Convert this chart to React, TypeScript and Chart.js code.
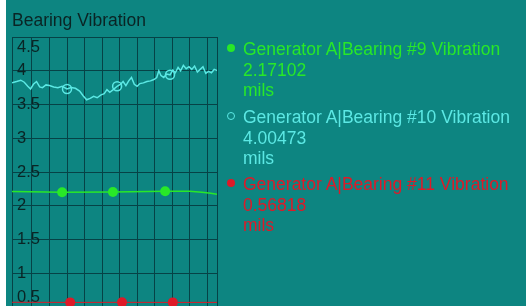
import React, { useEffect, useRef } from "react";
import { Chart, registerables } from "chart.js";

Chart.register(...registerables);

const TITLE = "Bearing Vibration";
const Y_TICKS = [0.5, 1, 1.5, 2, 2.5, 3, 3.5, 4, 4.5];
const X_GRID = [5, 10, 15, 20, 25, 30, 35, 40, 45, 50, 55];
const X_MIN = -0.7;
const X_MAX = 57.8;

const CYAN_X = [-0.7, 0.6, 1.8, 2.8, 3.8, 4.6, 5.4, 6.3, 7.2, 8.0, 9.0, 10.0, 11.2, 12.4, 13.6, 15.0, 16.2, 17.4, 18.6, 19.6, 20.6, 21.6, 22.6, 23.6, 24.6, 25.6, 26.4, 27.2, 28.2, 29.3, 30.3, 31.0, 31.8, 32.6, 33.4, 34.2, 35.0, 35.8, 36.8, 37.8, 38.8, 39.8, 40.6, 41.2, 41.8, 42.6, 43.4, 44.4, 45.2, 45.9, 46.7, 47.4, 48.2, 49.0, 49.8, 50.6, 51.4, 52.2, 53.0, 53.8, 54.6, 55.4, 56.2, 57.0, 57.8];
const CYAN_Y = [3.82, 3.84, 3.86, 3.83, 3.77, 3.73, 3.80, 3.84, 3.76, 3.75, 3.79, 3.78, 3.76, 3.75, 3.77, 3.73, 3.75, 3.74, 3.70, 3.63, 3.57, 3.59, 3.62, 3.60, 3.64, 3.66, 3.72, 3.68, 3.72, 3.77, 3.80, 3.84, 3.78, 3.85, 3.90, 3.80, 3.77, 3.81, 3.82, 3.84, 3.85, 3.87, 3.90, 4.00, 3.93, 3.90, 3.95, 3.94, 4.01, 3.97, 4.05, 4.00, 4.08, 4.03, 4.06, 4.02, 4.07, 3.98, 4.02, 4.06, 3.96, 3.99, 3.97, 4.02, 4.00473];
const CYAN_MARKS = [15.0, 29.3, 44.4];

const GREEN_X = [-0.7, 13.6, 28.1, 43.0, 50.0, 53.5, 56.0, 57.8];
const GREEN_Y = [2.21, 2.2, 2.205, 2.215, 2.215, 2.2, 2.185, 2.17102];
const GREEN_MARKS = [13.6, 28.1, 43.0];

const RED_X = [-0.7, 15.9, 30.7, 45.2, 57.8];
const RED_Y = [0.57, 0.568, 0.569, 0.568, 0.56818];
const RED_MARKS = [15.9, 30.7, 45.2];

const LEGEND_NAMES = [
  "Generator A|Bearing #9 Vibration",
  "Generator A|Bearing #10 Vibration",
  "Generator A|Bearing #11 Vibration",
];
const LEGEND_VALUES = ["2.17102", "4.00473", "0.56818"];
const UNIT = "mils";

const BG = "rgb(13,133,129)";
const GRID = "rgb(6,66,70)";
const DARK = "#0a2424";
const GREEN = "rgb(40,232,40)";
const CYAN = "rgb(92,232,228)";
const RED = "rgb(222,26,40)";

function pts(xs: number[], ys: number[]) {
  return xs.map((x, i) => ({ x, y: ys[i] }));
}

const yLabelPlugin = {
  id: "yLabels",
  beforeDatasetsDraw(chart: any) {
    const { ctx, chartArea, scales } = chart;
    const ys = scales.y;
    ctx.save();
    ctx.font = "16.5px Arial, 'Liberation Sans', sans-serif";
    ctx.fillStyle = DARK;
    ctx.textAlign = "left";
    ctx.textBaseline = "middle";
    Y_TICKS.forEach((v) => {
      let p = ys.getPixelForValue(v);
      p = Math.max(chartArea.top + 10, Math.min(chartArea.bottom - 10, p));
      ctx.fillText(String(v), chartArea.left + 5, p);
    });
    ctx.restore();
  },
};

export default function App() {
  const ref = useRef<HTMLCanvasElement | null>(null);
  useEffect(() => {
    if (!ref.current) return;
    const mk = (marks: number[], r: number) => (c: any) =>
      c.raw && marks.includes(c.raw.x) ? r : 0;
    const chart = new Chart(ref.current, {
      type: "line",
      data: {
        datasets: [
          {
            data: pts(CYAN_X, CYAN_Y),
            borderColor: CYAN,
            borderWidth: 1.5,
            pointRadius: mk(CYAN_MARKS, 4.5),
            pointBackgroundColor: "rgba(0,0,0,0)",
            pointBorderColor: CYAN,
            pointBorderWidth: 1.5,
          },
          {
            data: pts(GREEN_X, GREEN_Y),
            borderColor: GREEN,
            borderWidth: 1.5,
            pointRadius: mk(GREEN_MARKS, 5),
            pointBackgroundColor: GREEN,
            pointBorderColor: GREEN,
            pointBorderWidth: 0,
          },
          {
            data: pts(RED_X, RED_Y),
            borderColor: RED,
            borderWidth: 1,
            pointRadius: mk(RED_MARKS, 5),
            pointBackgroundColor: RED,
            pointBorderColor: RED,
            pointBorderWidth: 0,
          },
        ],
      },
      options: {
        animation: false,
        responsive: false,
        devicePixelRatio: 1,
        layout: { padding: { left: 6, top: 37, right: 19, bottom: 13 } },
        plugins: { legend: { display: false }, title: { display: false }, tooltip: { enabled: false } },
        scales: {
          x: {
            type: "linear",
            min: X_MIN,
            max: X_MAX,
            afterBuildTicks: (s: any) => {
              s.ticks = [X_MIN, ...X_GRID, X_MAX].map((v) => ({ value: v }));
            },
            ticks: { display: false },
            grid: { color: GRID, drawTicks: false, lineWidth: 1 },
            border: { display: false },
          },
          y: {
            type: "linear",
            min: 0.5,
            max: 4.5,
            afterBuildTicks: (s: any) => {
              s.ticks = Y_TICKS.map((v) => ({ value: v }));
            },
            ticks: { display: false },
            grid: { color: GRID, drawTicks: false, lineWidth: 1 },
            border: { display: false },
          },
        },
      },
      plugins: [yLabelPlugin],
    } as any);
    return () => chart.destroy();
  }, []);

  const colors = [GREEN, CYAN, RED];
  const tops = [39, 107, 174];

  return (
    <div style={{ position: "fixed", left: 0, top: 0, width: 526, height: 306, background: "#fff", overflow: "hidden" }}>
      <div style={{ position: "absolute", left: 6, top: 0, width: 520, height: 306, background: BG, overflow: "hidden", fontFamily: "Arial, 'Liberation Sans', sans-serif" }}>
        <canvas ref={ref} width={230} height={320} style={{ position: "absolute", left: 0, top: 0, width: 230, height: 320 }} />
        <div style={{ position: "absolute", left: 6, top: 10, fontSize: 17.5, lineHeight: "20px", color: DARK, whiteSpace: "nowrap" }}>{TITLE}</div>
        {LEGEND_NAMES.map((n, i) => (
          <div key={i} style={{ position: "absolute", left: 0, top: tops[i], width: 520 }}>
            <span
              style={{
                position: "absolute",
                left: 221,
                top: 5,
                width: 8,
                height: 8,
                boxSizing: "border-box",
                borderRadius: "50%",
                background: i === 1 ? "transparent" : colors[i],
                border: i === 1 ? `1.5px solid ${colors[i]}` : "none",
              }}
            />
            <div style={{ position: "absolute", left: 237, top: 0, fontSize: 17.5, lineHeight: "20.5px", color: colors[i], whiteSpace: "nowrap" }}>
              <div>{n}</div>
              <div>{LEGEND_VALUES[i]}</div>
              <div>{UNIT}</div>
            </div>
          </div>
        ))}
      </div>
    </div>
  );
}
